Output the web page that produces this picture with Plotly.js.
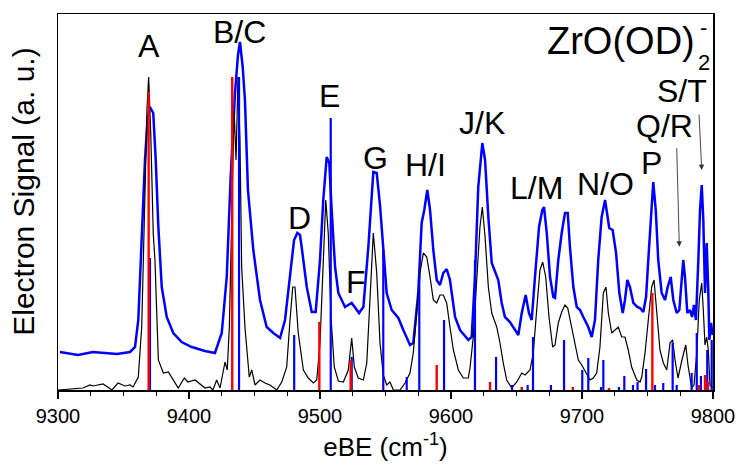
<!DOCTYPE html>
<html>
<head>
<meta charset="utf-8">
<script src="https://cdn.plot.ly/plotly-3.0.1.min.js"></script>
<style>html,body{margin:0;padding:0;background:#fff;}#chart{width:739px;height:468px;}</style>
</head>
<body>
<div id="chart"></div>
<script>
// Blue trace (upper spectrum), eBE in cm^-1, signal in a.u.
var blueX = [9301.5,9315.3,9326.7,9345.0,9355.0,9358.8,9361.3,9363.9,9366.4,9368.5,
9370.2,9372.7,9374.6,9376.6,9379.2,9383.0,9388.0,9394.4,9402.1,9412.2,
9419.8,9425.0,9428.8,9431.8,9435.1,9437.4,9438.9,9441.0,9442.7,9445.0,
9449.1,9454.2,9459.3,9464.4,9469.5,9473.3,9477.1,9480.2,9482.7,9484.7,
9486.0,9489.9,9493.7,9496.7,9500.0,9502.5,9505.1,9507.1,9508.9,9511.5,
9514.0,9519.1,9524.2,9526.7,9529.8,9533.1,9536.9,9540.7,9543.3,9545.8,
9548.3,9550.9,9554.7,9559.8,9563.6,9568.7,9571.2,9575.0,9577.6,9579.6,
9581.9,9584.0,9586.5,9589.1,9591.6,9594.1,9596.7,9599.2,9603.1,9606.9,
9612.0,9613.2,9615.8,9618.3,9620.8,9623.9,9626.0,9628.5,9631.1,9633.6,
9636.1,9638.7,9641.2,9645.0,9648.9,9651.4,9654.0,9657.0,9659.5,9661.6,
9664.1,9667.2,9669.7,9671.0,9673.1,9675.6,9678.1,9679.4,9681.9,9684.5,
9687.0,9689.1,9690.8,9693.4,9696.0,9698.5,9701.0,9704.8,9707.4,9709.9,
9712.4,9715.0,9717.6,9719.3,9720.8,9723.4,9726.0,9728.5,9731.1,9732.8,
9734.6,9736.6,9739.2,9742.2,9744.3,9746.8,9748.9,9750.6,9752.7,9754.4,
9756.3,9758.2,9760.8,9763.4,9765.4,9767.7,9769.7,9772.3,9774.3,9776.1,
9777.3,9778.6,9780.4,9782.4,9784.0,9785.5,9787.0,9788.8,9790.1,9791.4,
9792.6,9793.9,9795.2,9796.4,9797.2,9798.5,9799.8];
var blueY = [38,35,38,36,38,43,70,157,230,273,
283,277,230,163,103,73,57,48,43,39,
37,57,113,213,297,335,348,323,290,200,
140,90,63,57,52,70,117,150,157,155,
143,103,78,78,130,190,233,227,180,123,
97,83,87,83,77,83,143,218,217,185,
140,97,80,72,60,45,47,97,167,180,
200,180,140,110,105,117,121,110,73,60,
52,50,53,113,203,247,230,173,127,118,
110,87,73,68,60,55,77,95,77,70,
113,163,180,183,157,113,93,92,130,157,
177,177,143,103,83,80,73,63,53,70,
130,173,190,177,162,160,137,97,77,90,
110,103,87,83,82,78,93,130,180,208,
180,130,97,90,103,113,90,77,80,113,
130,113,77,80,73,85,70,130,180,205,
170,97,147,100,50,67,55];

// Black trace (lower spectrum)
var blackX = [9300.0,9309.2,9319.1,9324.4,9326.7,9334.4,9338.2,9341.2,9345.8,9351.1,
9355.0,9357.3,9361.3,9363.9,9366.4,9367.9,9369.2,9370.8,9372.7,9374.0,
9376.6,9380.4,9384.2,9388.0,9391.8,9396.4,9399.2,9404.6,9408.4,9412.2,
9416.0,9418.3,9421.1,9423.7,9427.5,9429.2,9430.8,9432.6,9434.4,9435.9,
9437.4,9438.9,9440.2,9442.7,9444.5,9446.0,9447.9,9450.4,9454.2,9458.0,
9461.8,9467.0,9470.8,9474.6,9477.1,9479.2,9480.9,9483.4,9487.3,9491.1,
9494.9,9497.5,9500.0,9502.1,9504.4,9506.3,9508.4,9510.9,9514.0,9517.8,
9521.6,9524.2,9526.2,9529.2,9533.1,9535.7,9538.2,9540.7,9543.3,9545.8,
9548.3,9550.9,9553.4,9556.0,9561.1,9564.9,9568.7,9571.2,9573.8,9576.3,
9578.9,9581.5,9584.0,9586.5,9589.1,9591.6,9594.1,9596.7,9599.2,9601.8,
9605.6,9609.4,9613.2,9614.5,9617.0,9619.6,9622.1,9623.9,9626.0,9628.5,
9631.1,9634.9,9637.4,9639.9,9642.5,9646.3,9650.2,9654.0,9656.5,9660.3,
9662.8,9665.4,9667.9,9670.0,9672.3,9674.8,9677.6,9679.4,9681.9,9684.5,
9687.0,9689.1,9692.1,9694.7,9697.2,9699.8,9703.6,9706.1,9708.6,9711.2,
9713.7,9716.3,9718.3,9720.1,9722.7,9725.2,9727.7,9730.3,9732.8,9735.3,
9737.9,9741.8,9744.3,9745.6,9748.1,9750.6,9753.2,9755.0,9757.0,9759.5,
9762.1,9764.7,9767.2,9769.2,9771.0,9773.3,9776.3,9779.2,9780.9,9783.7,
9785.5,9787.6,9789.5,9791.4,9792.6,9793.9,9795.2,9796.4,9797.7,9799.8];
var blackY = [0,1,2,5,4,6,3,0,7,4,
5,3,13,63,197,280,313,257,157,130,
30,17,18,10,2,12,8,10,6,2,
3,0,10,2,28,20,63,180,280,230,
313,250,123,63,30,13,20,5,10,7,
5,0,8,23,70,103,103,57,20,12,
7,10,47,123,190,157,73,23,9,8,
20,52,23,12,10,27,97,157,117,47,
15,5,8,0,0,7,17,37,77,117,
137,133,113,90,87,95,95,87,63,40,
20,12,12,22,53,113,163,183,153,103,
77,63,47,27,10,2,8,17,15,20,
37,80,120,128,113,73,43,45,67,78,
85,82,63,43,30,25,15,10,12,17,
43,97,103,77,57,60,63,53,53,40,
23,10,8,13,37,70,103,110,80,40,
27,20,47,50,30,12,30,45,25,2,
5,37,90,107,80,45,53,40,5,2];

// Simulated stick spectra
var redPos = [9369.2,9433.0,9499.5,9523.4,9589.1,9629.8,9654.0,9693.0,9720.6,9753.7,9789.3,9793.9,9796.2];
var redInt = [298,313,68,30,25,8,3,3,2,97,5,15,8];
var bluePos = [9370.2,9438.2,9480.3,9508.2,9524.2,9548.3,9566.2,9575.8,9594.7,9618.3,
9634.4,9646.6,9658.5,9662.6,9676.3,9686.3,9700.2,9704.8,9714.5,9716.3,
9728.2,9732.3,9738.9,9742.4,9748.9,9755.7,9762.0,9769.2,9772.3,9783.7,
9787.6,9790.8,9795.6,9799.0];
var blueInt = [132,313,55,272,33,140,13,115,70,130,
33,5,5,53,5,50,20,32,3,30,
3,14,5,8,21,5,7,47,5,17,
57,14,40,50];

// Peak labels
var peakLabels = ["A","B/C","D","E","F","G","H/I","J/K","L/M","N/O","P","Q/R","S/T"];
var peakLabelX = [9369.1,9438.9,9484.7,9507.3,9527.5,9542.7,9580.5,9623.3,9665.6,9717.6,9752.7,9762.6,9776.0];
var peakLabelY = [344,358,172.5,294,108.5,232.5,225.5,267,202.5,206,227.5,264,299.5];

function sticks(pos, inten) {
  var x = [], y = [];
  for (var i = 0; i < pos.length; i++) {
    x.push(pos[i], pos[i], null);
    y.push(0, inten[i], null);
  }
  return {x: x, y: y};
}
var rs = sticks(redPos, redInt), bs = sticks(bluePos, blueInt);

var FONT = 'Arial, "Liberation Sans", sans-serif';
var traces = [
  {x: blueX, y: blueY, mode: 'lines', line: {color: '#0000ff', width: 2.5}, hoverinfo: 'skip'},
  {x: blackX, y: blackY, mode: 'lines', line: {color: '#000000', width: 1.2}, hoverinfo: 'skip'},
  {x: bs.x, y: bs.y, mode: 'lines', line: {color: '#0000ff', width: 2.2}, hoverinfo: 'skip'},
  {x: rs.x, y: rs.y, mode: 'lines', line: {color: '#ff0000', width: 2.4}, hoverinfo: 'skip'}
];

var ann = [];
for (var i = 0; i < peakLabels.length; i++) {
  ann.push({x: peakLabelX[i], y: peakLabelY[i], xref: 'x', yref: 'y', text: peakLabels[i],
    showarrow: false, xanchor: 'center', yanchor: 'middle', font: {family: FONT, size: 32, color: '#000'}});
}
// arrows for Q/R and S/T
ann.push({x: 9774.3, y: 143.3, ax: 9772.3, ay: 243.3, axref: 'x', ayref: 'y', xref: 'x', yref: 'y',
  text: '', showarrow: true, arrowhead: 2, arrowsize: 1.2, arrowwidth: 0.9, arrowcolor: '#333'});
ann.push({x: 9791.4, y: 220, ax: 9789.3, ay: 277, axref: 'x', ayref: 'y', xref: 'x', yref: 'y',
  text: '', showarrow: true, arrowhead: 2, arrowsize: 1.2, arrowwidth: 0.9, arrowcolor: '#333'});
// molecule label
ann.push({x: 0.7435, y: 0.928, xref: 'paper', yref: 'paper', text: 'ZrO(OD)', showarrow: false,
  xanchor: 'left', yanchor: 'middle', font: {family: FONT, size: 38, color: '#000'}});
ann.push({x: 0.987, y: 0.871, xref: 'paper', yref: 'paper', text: '2', showarrow: false,
  xanchor: 'center', yanchor: 'middle', font: {family: FONT, size: 22, color: '#000'}});
ann.push({x: 0.985, y: 0.963, xref: 'paper', yref: 'paper', text: '-', showarrow: false,
  xanchor: 'center', yanchor: 'middle', font: {family: FONT, size: 22, color: '#000'}});
// y-axis title (placed as rotated text to match the reference position)
ann.push({x: -0.052, y: 0.527, xref: 'paper', yref: 'paper', text: 'Electron Signal (a. u.)', showarrow: false,
  textangle: -90, xanchor: 'center', yanchor: 'middle', font: {family: FONT, size: 30, color: '#000'}});

var layout = {
  width: 739, height: 468,
  margin: {l: 58, r: 26, t: 14, b: 78},
  paper_bgcolor: '#fff', plot_bgcolor: '#fff',
  showlegend: false,
  font: {family: FONT, color: '#000'},
  xaxis: {
    range: [9300, 9800], dtick: 100, tick0: 9300, tickformat: 'd',
    ticks: 'outside', ticklen: 7, tickwidth: 1.3, tickcolor: '#000',
    minor: {dtick: 25, ticks: 'outside', ticklen: 4, tickwidth: 1.2, tickcolor: '#000'},
    showline: true, linecolor: '#000', linewidth: 1.5, mirror: true,
    showgrid: false, zeroline: false,
    tickfont: {family: FONT, size: 20, color: '#000'},
    title: {text: 'eBE (cm<sup>-1</sup>)', font: {family: FONT, size: 26, color: '#000'}, standoff: 12}
  },
  yaxis: {
    range: [0, 376], showticklabels: false, ticks: '',
    showline: true, linecolor: '#000', linewidth: 1.5, mirror: true,
    showgrid: false, zeroline: false
  },
  annotations: ann
};

Plotly.newPlot('chart', traces, layout, {staticPlot: true, displayModeBar: false});
</script>
</body>
</html>
